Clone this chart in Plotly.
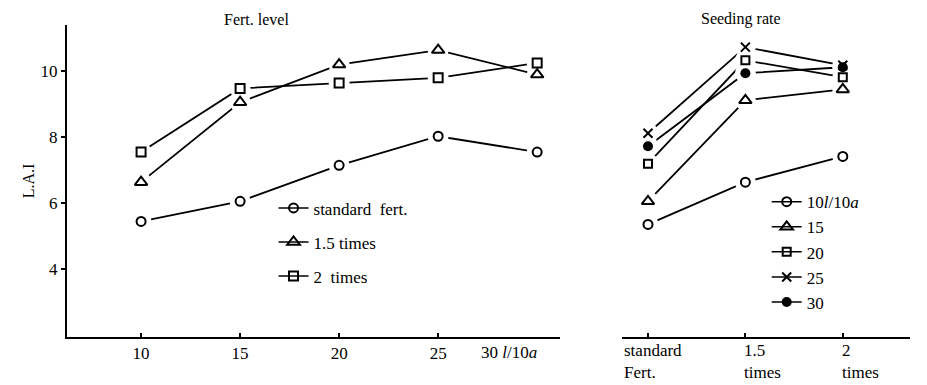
import plotly.graph_objects as go

# ---- data ----
fert_x = [10, 15, 20, 25, 30]
fert_series = ["standard  fert.", "1.5 times", "2  times"]
fert_values = [
    [5.45, 6.06, 7.15, 8.03, 7.55],
    [6.64, 9.06, 10.2, 10.64, 9.9],
    [7.55, 9.48, 9.64, 9.8, 10.25],
]
seed_cats = ["standard<br>Fert.", "1.5<br>times", "2<br>times"]
seed_series = ["10<i>l</i>/10<i>a</i>", "15", "20", "25", "30"]
seed_values = [
    [5.36, 6.64, 7.42],
    [6.06, 9.12, 9.45],
    [7.2, 10.33, 9.82],
    [8.12, 10.73, 10.18],
    [7.73, 9.94, 10.12],
]
y_ticks = [4, 6, 8, 10]

FONT = "Liberation Serif"
fert_sym = [
    dict(symbol="circle-open", size=9, line=dict(width=2, color="black")),
    dict(symbol="triangle-up-open", size=11, line=dict(width=2, color="black")),
    dict(symbol="square-open", size=9, line=dict(width=2, color="black")),
]
seed_sym = [
    dict(symbol="circle-open", size=9, line=dict(width=2, color="black")),
    dict(symbol="triangle-up-open", size=11, line=dict(width=2, color="black")),
    dict(symbol="square-open", size=8, line=dict(width=2, color="black")),
    dict(symbol="x-thin", size=9, line=dict(width=2, color="black")),
    dict(symbol="circle", size=10, color="black", line=dict(width=0)),
]

seed_idx = list(range(len(seed_cats)))
panels = [
    (fert_x, fert_series, fert_values, fert_sym, "x", "y", "legend", "f"),
    (seed_idx, seed_series, seed_values, seed_sym, "x2", "y2", "legend2", "s"),
]

fig = go.Figure()

# layer 1: connecting lines
for xs, names, values, syms, xa, ya, lg, g in panels:
    for vals in values:
        fig.add_trace(go.Scatter(x=xs, y=vals, mode="lines", xaxis=xa, yaxis=ya,
                                 line=dict(color="black", width=1.8),
                                 showlegend=False, hoverinfo="skip"))
# layer 2: white gaps around points
for xs, names, values, syms, xa, ya, lg, g in panels:
    for vals in values:
        fig.add_trace(go.Scatter(x=xs, y=vals, mode="markers", xaxis=xa, yaxis=ya,
                                 marker=dict(symbol="circle", size=21, color="white",
                                             line=dict(width=0)),
                                 showlegend=False, hoverinfo="skip"))
# layer 3: markers + legend entries
for xs, names, values, syms, xa, ya, lg, g in panels:
    for i, (nm, vals) in enumerate(zip(names, values)):
        msym = {k: v for k, v in syms[i].items() if k != "color"}
        fig.add_trace(go.Scatter(x=xs, y=vals, mode="markers", xaxis=xa, yaxis=ya,
                                 marker=dict(color="black", **msym), showlegend=False))
        fig.add_trace(go.Scatter(x=[None], y=[None], mode="lines+markers",
                                 xaxis=xa, yaxis=ya, name=nm, legend=lg,
                                 legendgroup="%s%d" % (g, i),
                                 line=dict(color="black", width=1.5),
                                 marker=dict(color="black", **msym)))

axis_common = dict(showgrid=False, zeroline=False, showline=True, linecolor="black",
                   linewidth=2, color="black")
tickf = dict(family=FONT, size=17, color="black")

fig.update_layout(
    width=927, height=385,
    margin=dict(l=59, r=25, t=17, b=56),
    paper_bgcolor="white", plot_bgcolor="white",
    font=dict(family=FONT, size=16, color="black"),
    xaxis=dict(domain=[0, 0.585], range=[6.26, 31.16], tickvals=fert_x[:-1],
               ticks="inside", ticklen=4, tickwidth=1.5, tickcolor="black",
               tickfont=tickf, anchor="y", **axis_common),
    yaxis=dict(range=[1.95, 11.4], tickvals=y_ticks, ticks="outside", ticklen=4,
               tickwidth=1.5, tickcolor="black", tickfont=tickf,
               title=dict(text="L.A.I", font=dict(family=FONT, size=16), standoff=2),
               anchor="x", **axis_common),
    xaxis2=dict(domain=[0.658, 1.0], range=[-0.27, 2.69], tickvals=seed_idx,
                showticklabels=False, ticks="inside", ticklen=4, tickwidth=1.5,
                tickcolor="black", anchor="y2", **axis_common),
    yaxis2=dict(range=[1.95, 11.4], visible=False, anchor="x2", matches="y"),
    legend=dict(x=0.245, y=0.47, xanchor="left", yanchor="top",
                bgcolor="rgba(0,0,0,0)", traceorder="grouped", tracegroupgap=9,
                font=dict(family=FONT, size=17)),
    legend2=dict(x=0.83, y=0.49, xanchor="left", yanchor="top",
                 bgcolor="rgba(0,0,0,0)", traceorder="grouped", tracegroupgap=0,
                 font=dict(family=FONT, size=17)),
    showlegend=True,
)

annotations = [
    dict(text="Fert. level", x=0.225, y=1.0, xref="paper", yref="paper",
         xanchor="center", yanchor="bottom", yshift=-5, showarrow=False,
         font=dict(family=FONT, size=16)),
    dict(text="Seeding rate", x=0.8, y=1.0, xref="paper", yref="paper",
         xanchor="center", yanchor="bottom", yshift=-5, showarrow=False,
         font=dict(family=FONT, size=16)),
    dict(text="30 <i>l</i>/10<i>a</i>", x=fert_x[-1], y=0, xref="x", yref="paper",
         xanchor="right", yanchor="top", yshift=-4, xshift=2, showarrow=False,
         font=tickf),
]
shifts = [-26, -3, -3]
for i, t in enumerate(seed_cats):
    annotations.append(dict(text=t, x=seed_idx[i], y=0, xref="x2", yref="paper",
                            xanchor="left", yanchor="top", align="left",
                            xshift=shifts[i], yshift=-2, showarrow=False,
                            font=tickf))
fig.update_layout(annotations=annotations)

fig.write_html("out.html")
